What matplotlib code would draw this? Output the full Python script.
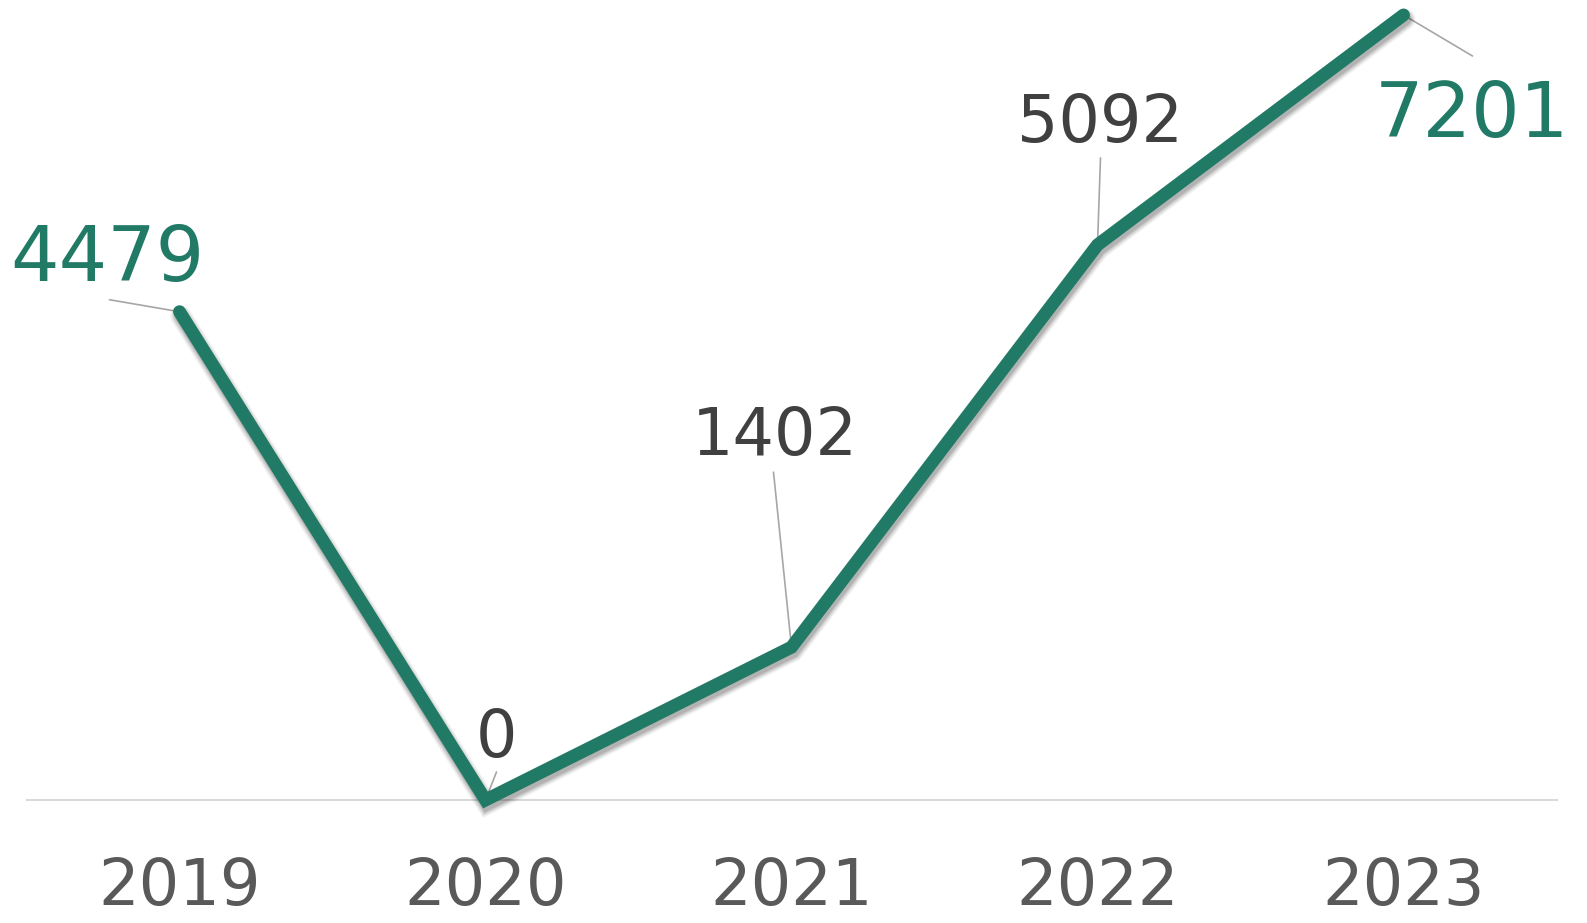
import matplotlib
matplotlib.use("Agg")
import matplotlib.pyplot as plt
import matplotlib.patheffects as pe

years = ["2019", "2020", "2021", "2022", "2023"]
values = [4479, 0, 1402, 5092, 7201]
label_colors = ["#217a66", "#404040", "#404040", "#404040", "#217a66"]
label_sizes = [55, 47, 47, 47, 55]
# text offsets (pixels, baseline-centre) and leader-line start offsets relative to point
text_offsets = [(-72, 31), (11, 43), (-17, 192), (3, 103), (68, -122)]
leader_offsets = [(-70, 12), (11, 28), (-18, 175), (3, 87), (69, -41)]

W, H = 1587, 923
fig = plt.figure(figsize=(W / 100, H / 100), dpi=100)
ax = fig.add_axes([26.5 / W, (H - 800) / H, 1530 / W, (800 - 15) / H])
ax.set_xlim(-0.5, 4.5)
ax.set_ylim(0, max(values))

LW = 9.3
x = list(range(len(years)))
line, = ax.plot(x, values, color="#217a66", lw=LW, solid_capstyle="round",
                solid_joinstyle="miter", clip_on=False, zorder=3)
shadows = []
for extra, a in [(6, 0.05), (4, 0.07), (2, 0.09), (0, 0.12)]:
    shadows.append(pe.SimpleLineShadow(offset=(1, -3), shadow_color="#000000",
                                       alpha=a, linewidth=LW + extra))
line.set_path_effects(shadows + [pe.Normal()])

for i, v in enumerate(values):
    lx, ly = leader_offsets[i]
    ax.annotate("", xy=(i, v), xytext=(lx, ly), textcoords="offset pixels",
                arrowprops=dict(arrowstyle="-", color="#a6a6a6", lw=1.2,
                                shrinkA=0, shrinkB=0), zorder=2, annotation_clip=False)
    tx, ty = text_offsets[i]
    ax.annotate(str(v), xy=(i, v), xytext=(tx, ty), textcoords="offset pixels",
                ha="center", va="baseline", fontsize=label_sizes[i],
                color=label_colors[i], family="DejaVu Sans", annotation_clip=False)

for s in ["top", "right", "left"]:
    ax.spines[s].set_visible(False)
ax.spines["bottom"].set_color("#d9d9d9")
ax.spines["bottom"].set_linewidth(1.5)
ax.set_yticks([])
ax.set_xticks(x)
ax.set_xticklabels(years, fontsize=46, color="#595959", family="DejaVu Sans")
ax.tick_params(axis="x", length=0, pad=40)

fig.savefig("out.png", dpi=100)
